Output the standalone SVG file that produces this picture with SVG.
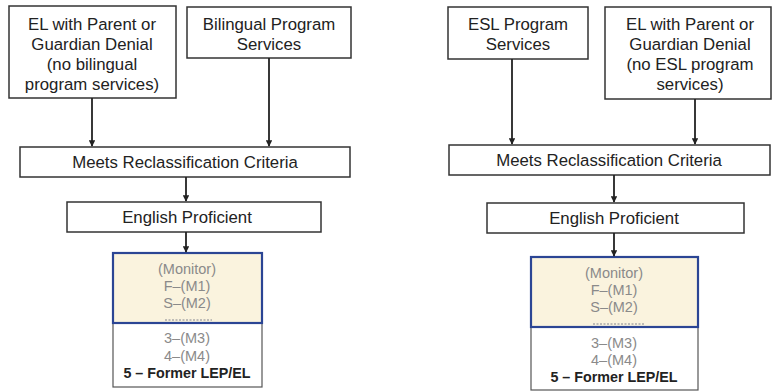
<svg xmlns="http://www.w3.org/2000/svg" width="772" height="392" viewBox="0 0 772 392">
<defs>
<style>
.box{fill:#fff;stroke:#333;stroke-width:1.5}
.t{font-family:"Liberation Sans",Arial,sans-serif;font-size:16.8px;fill:#222;text-anchor:middle}
.m{font-family:"Liberation Sans",Arial,sans-serif;font-size:14.5px;fill:#8a8a8a;text-anchor:middle}
.b{font-family:"Liberation Sans",Arial,sans-serif;font-size:14.3px;font-weight:bold;fill:#222;text-anchor:middle}
.yel{fill:#faf3de;stroke:#2b4594;stroke-width:2.2}
.low{fill:#fff;stroke:#555;stroke-width:1.2}
.dot{stroke:#aaa;stroke-width:1.5;stroke-dasharray:2 1.5}
.c{stroke:#222;stroke-width:1.8;fill:none;marker-end:url(#ah)}
</style>
<marker id="ah" viewBox="0 0 10 10" refX="9" refY="5" markerWidth="3.5" markerHeight="3.5" orient="auto"><path d="M0,0 L10,5 L0,10 z" fill="#222"/></marker>
</defs>
<rect width="772" height="392" fill="#fff"/>

<g id="left-denial">
<rect class="box" x="9" y="6" width="167" height="92"/>
<text class="t" x="92" y="30">EL with Parent or</text>
<text class="t" x="92" y="50">Guardian Denial</text>
<text class="t" x="92" y="70">(no bilingual</text>
<text class="t" x="92" y="90">program services)</text>
</g>
<g id="left-bilingual">
<rect class="box" x="187" y="7" width="164" height="51"/>
<text class="t" x="269" y="30">Bilingual Program</text>
<text class="t" x="269" y="50">Services</text>
</g>
<g id="left-meets">
<rect class="box" x="20" y="147" width="330" height="30"/>
<text class="t" x="185" y="168">Meets Reclassification Criteria</text>
</g>
<g id="left-proficient">
<rect class="box" x="67" y="202" width="254" height="30"/>
<text class="t" x="187" y="223">English Proficient</text>
</g>
<g id="left-monitor">
<rect class="low" x="113" y="323" width="149" height="64"/>
<rect class="yel" x="113" y="253" width="149" height="70"/>
<line class="dot" x1="165" y1="320" x2="212" y2="320"/>
<text class="m" x="187" y="274">(Monitor)</text>
<text class="m" x="187" y="291">F–(M1)</text>
<text class="m" x="187" y="308">S–(M2)</text>
<text class="m" x="187" y="343">3–(M3)</text>
<text class="m" x="187" y="361">4–(M4)</text>
<text class="b" x="187" y="378">5 – Former LEP/EL</text>
</g>

<g id="right-esl">
<rect class="box" x="448" y="7" width="140" height="52"/>
<text class="t" x="518" y="30">ESL Program</text>
<text class="t" x="518" y="50">Services</text>
</g>
<g id="right-denial">
<rect class="box" x="605" y="7" width="166" height="92"/>
<text class="t" x="690" y="30">EL with Parent or</text>
<text class="t" x="690" y="50">Guardian Denial</text>
<text class="t" x="690" y="70">(no ESL program</text>
<text class="t" x="690" y="90">services)</text>
</g>
<g id="right-meets">
<rect class="box" x="449" y="145" width="321" height="30"/>
<text class="t" x="609" y="166">Meets Reclassification Criteria</text>
</g>
<g id="right-proficient">
<rect class="box" x="487" y="203" width="257" height="30"/>
<text class="t" x="614" y="224">English Proficient</text>
</g>
<g id="right-monitor">
<rect class="low" x="531" y="327" width="167" height="63"/>
<rect class="yel" x="531" y="257" width="167" height="70"/>
<line class="dot" x1="593" y1="324" x2="645" y2="324"/>
<text class="m" x="614" y="278">(Monitor)</text>
<text class="m" x="614" y="295">F–(M1)</text>
<text class="m" x="614" y="312">S–(M2)</text>
<text class="m" x="614" y="348">3–(M3)</text>
<text class="m" x="614" y="365">4–(M4)</text>
<text class="b" x="614" y="382">5 – Former LEP/EL</text>
</g>

<g id="connectors">
<line class="c" x1="92" y1="98" x2="92" y2="146"/>
<line class="c" x1="269" y1="58" x2="269" y2="146"/>
<line class="c" x1="186" y1="177" x2="186" y2="201"/>
<line class="c" x1="186" y1="232" x2="186" y2="252"/>
<line class="c" x1="512" y1="59" x2="512" y2="144"/>
<line class="c" x1="695" y1="99" x2="695" y2="144"/>
<line class="c" x1="614" y1="175" x2="614" y2="202"/>
<line class="c" x1="614" y1="233" x2="614" y2="256"/>
</g>
</svg>
